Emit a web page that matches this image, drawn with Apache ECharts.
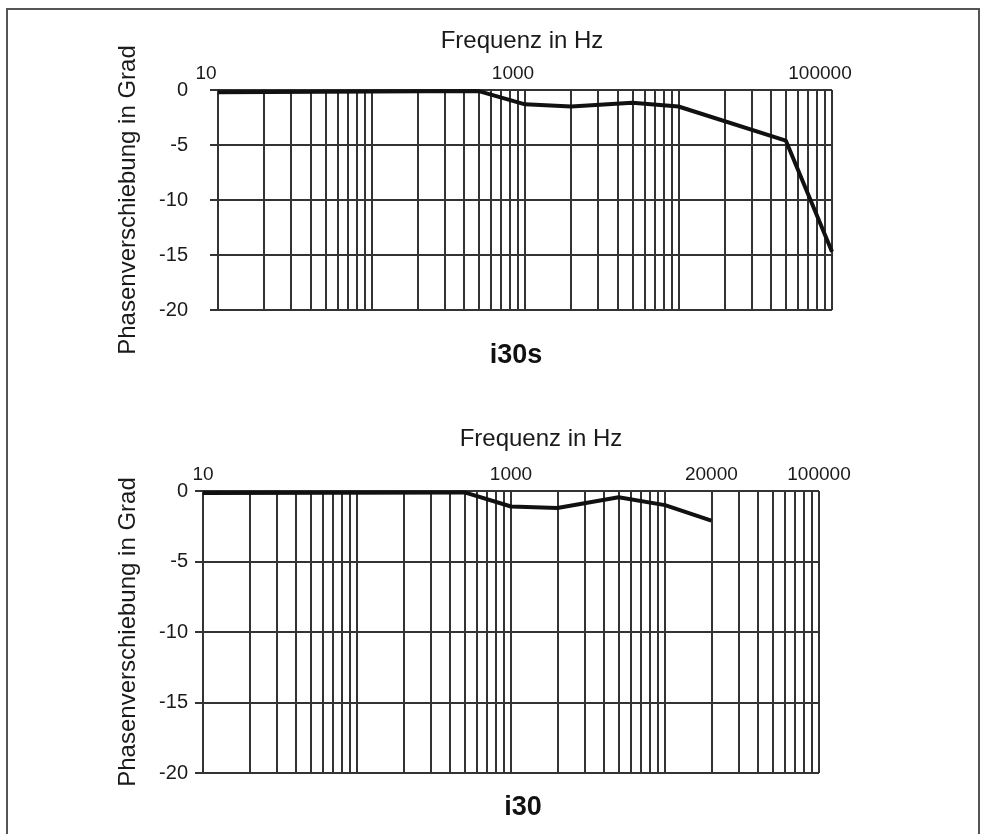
<!DOCTYPE html>
<html>
<head>
<meta charset="utf-8">
<script src="https://cdn.jsdelivr.net/npm/echarts@6/dist/echarts.min.js"></script>
<style>
  html, body { margin: 0; padding: 0; background: #fff; }
  #chart { width: 984px; height: 834px; }
</style>
</head>
<body>
<div id="chart"></div>
<script>
// Frequenzen (Hz) und Phasenverschiebung (Grad)
const freqI30s = [10, 500, 1000, 2000, 5000, 10000, 50000, 100000];
const phaseI30s = [-0.2, -0.1, -1.3, -1.5, -1.15, -1.5, -4.6, -14.7];
const freqI30 = [10, 500, 1000, 2000, 5000, 10000, 20000];
const phaseI30 = [-0.15, -0.1, -1.1, -1.2, -0.45, -1.0, -2.1];

// Gitterlinien im logarithmischen Raster
const gridFreqs = [10, 20, 30, 40, 50, 60, 70, 80, 90,
  100, 200, 300, 400, 500, 600, 700, 800, 900,
  1000, 2000, 3000, 4000, 5000, 6000, 7000, 8000, 9000,
  10000, 20000, 30000, 40000, 50000, 60000, 70000, 80000, 90000, 100000];
const labelsTop = [10, 1000, 100000];
const labelsBottom = [10, 1000, 20000, 100000];
const yTicks = [0, -5, -10, -15, -20];

const font = 'Liberation Sans, Arial, Helvetica, sans-serif';
const gridColor = '#333';

const chart = echarts.init(document.getElementById('chart'));

function toPairs(xs, ys) {
  return xs.map((x, i) => [x, ys[i]]);
}

function gridLines(labels, offsetX) {
  return gridFreqs.map(f => {
    const item = { xAxis: f };
    if (labels.indexOf(f) >= 0) {
      item.label = {
        show: true,
        position: 'end',
        formatter: String(f),
        distance: 7,
        offset: [offsetX, 0],
        color: '#1a1a1a',
        fontSize: 19,
        fontFamily: font
      };
    }
    return item;
  });
}

function xAxisDef(idx) {
  return {
    gridIndex: idx,
    type: 'log',
    logBase: 10,
    min: 10,
    max: 100000,
    position: 'top',
    axisLine: { show: false },
    axisTick: { show: false },
    axisLabel: { show: false },
    splitLine: { show: false }
  };
}

function yAxisDef(idx, nameGap, labelMargin) {
  return {
    gridIndex: idx,
    type: 'value',
    min: -20,
    max: 0,
    interval: 5,
    name: 'Phasenverschiebung in Grad',
    nameLocation: 'middle',
    nameGap: nameGap,
    nameRotate: 90,
    nameTextStyle: { color: '#1a1a1a', fontSize: 24, fontFamily: font },
    axisLine: { show: false },
    axisTick: { show: true, length: 8, lineStyle: { color: gridColor, width: 2 } },
    axisLabel: {
      color: '#1a1a1a', fontSize: 20, fontFamily: font, margin: labelMargin,
      formatter: v => yTicks.indexOf(v) >= 0 ? String(v) : ''
    },
    splitLine: { show: true, lineStyle: { color: gridColor, width: 2 } }
  };
}

function seriesDef(idx, data, labels, offsetX) {
  return {
    type: 'line',
    xAxisIndex: idx,
    yAxisIndex: idx,
    data: data,
    showSymbol: false,
    symbol: 'none',
    z: 5,
    lineStyle: { color: '#111', width: 4 },
    markLine: {
      silent: true,
      symbol: ['none', 'none'],
      z: 2,
      label: { show: false },
      lineStyle: { color: gridColor, width: 2, type: 'solid' },
      emphasis: { disabled: true },
      data: gridLines(labels, offsetX)
    }
  };
}

const option = {
  backgroundColor: '#fff',
  animation: false,
  title: [
    { text: 'Frequenz in Hz', left: 517, top: 24, textAlign: 'center',
      textStyle: { color: '#1a1a1a', fontSize: 24, fontWeight: 'normal', fontFamily: font } },
    { text: 'i30s', left: 511, top: 337, textAlign: 'center',
      textStyle: { color: '#111', fontSize: 27, fontWeight: 'bold', fontFamily: font } },
    { text: 'Frequenz in Hz', left: 536, top: 422, textAlign: 'center',
      textStyle: { color: '#1a1a1a', fontSize: 24, fontWeight: 'normal', fontFamily: font } },
    { text: 'i30', left: 518, top: 789, textAlign: 'center',
      textStyle: { color: '#111', fontSize: 27, fontWeight: 'bold', fontFamily: font } }
  ],
  grid: [
    { left: 218, top: 90, width: 614, height: 220 },
    { left: 203, top: 491, width: 616, height: 282 }
  ],
  xAxis: [xAxisDef(0), xAxisDef(1)],
  yAxis: [yAxisDef(0, 78, 30), yAxisDef(1, 63, 15)],
  series: [
    seriesDef(0, toPairs(freqI30s, phaseI30s), labelsTop, -12),
    seriesDef(1, toPairs(freqI30, phaseI30), labelsBottom, 0)
  ],
  graphic: [{
    type: 'rect',
    shape: { x: 7, y: 9, width: 972, height: 840 },
    style: { fill: 'none', stroke: '#555', lineWidth: 2 },
    silent: true
  }]
};

chart.setOption(option);
</script>
</body>
</html>
